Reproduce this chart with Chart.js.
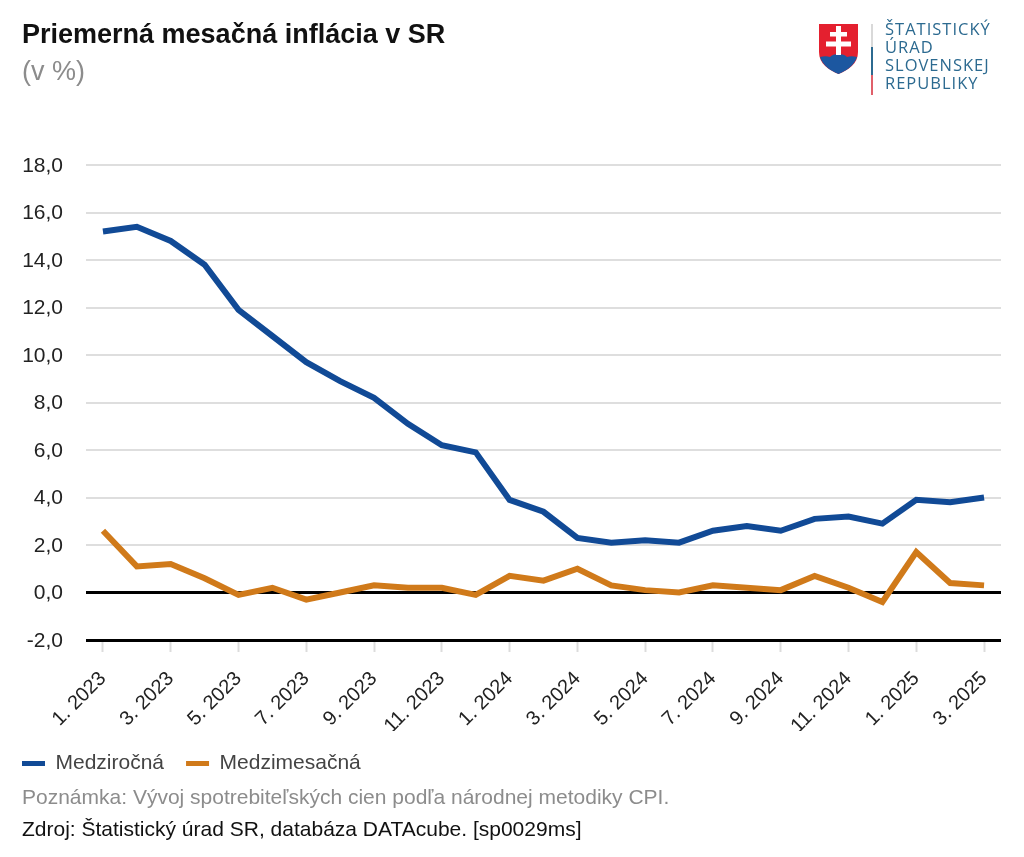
<!DOCTYPE html>
<html lang="sk">
<head>
<meta charset="utf-8">
<title>Priemerná mesačná inflácia v SR</title>
<script src="https://cdn.jsdelivr.net/npm/chart.js@4"></script>
<style>
  html, body { margin: 0; padding: 0; background: #fff; }
  body { position: relative; width: 1024px; height: 857px; overflow: hidden; font-family: "Liberation Sans", Arial, sans-serif; }
  #myChart { position: absolute; left: 0; top: 0; }
  .txt { position: absolute; white-space: nowrap; }
  #title { left: 22px; top: 19px; font-size: 27px; line-height: 30px; font-weight: bold; color: #111; }
  #unit { left: 22px; top: 56px; font-size: 27px; line-height: 30px; color: #8c8c8c; }
  #note { left: 22px; top: 785px; font-size: 21px; line-height: 24px; color: #8c8c8c; }
  #source { left: 22px; top: 817px; font-size: 21px; line-height: 24px; color: #111; }
  #logoText { left: 885px; top: 20px; font-family: "Open Sans", sans-serif; font-size: 16.5px; line-height: 18px; letter-spacing: 1px; color: #2c6a90; }
  #logo { position: absolute; left: 815px; top: 20px; }
</style>
</head>
<body>
<canvas id="myChart" width="1024" height="857"></canvas>

<div class="txt" id="title">Priemerná mesačná inflácia v SR</div>
<div class="txt" id="unit">(v %)</div>

<svg id="logo" width="62" height="78" viewBox="815 20 62 78">
  <path d="M819 24 H858 V52 C858 64 848 70 838.5 74 C829 70 819 64 819 52 Z" fill="#e4202f"/>
  <path d="M820 57 C824 56 827 56 830 57 C833 53 844 53 847 57 C850 56 853 56 857 57 C854 66 846 71 838.5 74 C831 71 823 66 820 57 Z" fill="#1c57a0"/>
  <rect x="836" y="26" width="5" height="29" fill="#fff"/>
  <rect x="830" y="32" width="17" height="4.5" fill="#fff"/>
  <rect x="826" y="41.5" width="25" height="5" fill="#fff"/>
  <rect x="871" y="24" width="2" height="23" fill="#d9d9d9"/>
  <rect x="871" y="47" width="2" height="28" fill="#2c6a90"/>
  <rect x="871" y="75" width="2" height="20" fill="#e0606a"/>
</svg>
<div class="txt" id="logoText">ŠTATISTICKÝ<br>ÚRAD<br>SLOVENSKEJ<br>REPUBLIKY</div>

<div class="txt" id="note">Poznámka: Vývoj spotrebiteľských cien podľa národnej metodiky CPI.</div>
<div class="txt" id="source">Zdroj: Štatistický úrad SR, databáza DATAcube. [sp0029ms]</div>

<script>
const months = [
  '1. 2023', '2. 2023', '3. 2023', '4. 2023', '5. 2023', '6. 2023', '7. 2023', '8. 2023', '9. 2023',
  '10. 2023', '11. 2023', '12. 2023', '1. 2024', '2. 2024', '3. 2024', '4. 2024', '5. 2024', '6. 2024',
  '7. 2024', '8. 2024', '9. 2024', '10. 2024', '11. 2024', '12. 2024', '1. 2025', '2. 2025', '3. 2025',
];
const yearOnYear = [
  15.2, 15.4, 14.8, 13.8, 11.9, 10.8, 9.7, 8.9, 8.2, 7.1, 6.2, 5.9, 3.9, 3.4,
  2.3, 2.1, 2.2, 2.1, 2.6, 2.8, 2.6, 3.1, 3.2, 2.9, 3.9, 3.8, 4.0,
];
const monthOnMonth = [
  2.6, 1.1, 1.2, 0.6, -0.1, 0.2, -0.3, 0.0, 0.3, 0.2, 0.2, -0.1, 0.7, 0.5,
  1.0, 0.3, 0.1, 0.0, 0.3, 0.2, 0.1, 0.7, 0.2, -0.4, 1.7, 0.4, 0.3,
];

const textColor = '#222';
const font = 'Liberation Sans';

const ctx = document.getElementById('myChart');
new Chart(ctx, {
  type: 'line',
  data: {
    labels: months,
    datasets: [
      { label: 'Medziročná', data: yearOnYear, borderColor: '#114a96', backgroundColor: '#114a96', borderWidth: 6, pointRadius: 0, tension: 0 },
      { label: 'Medzimesačná', data: monthOnMonth, borderColor: '#d07a1a', backgroundColor: '#d07a1a', borderWidth: 6, pointRadius: 0, tension: 0 },
    ],
  },
  options: {
    responsive: false,
    animation: false,
    devicePixelRatio: 1,
    layout: { padding: { top: 165, right: 23, bottom: 73, left: 0 } },
    scales: {
      x: {
        offset: true,
        border: { display: false },
        grid: { drawOnChartArea: false, drawTicks: true, tickLength: 12, tickColor: '#dcdcdc', tickWidth: 2 },
        ticks: {
          autoSkip: true,
          maxTicksLimit: 14,
          minRotation: 45,
          maxRotation: 45,
          padding: 15,
          color: textColor,
          font: { family: font, size: 20 },
        },
        afterFit: (axis) => { axis.height = 91; },
      },
      y: {
        min: -2,
        max: 18,
        border: { display: false },
        grid: {
          drawTicks: false,
          color: (c) => (c.tick.value === 0 || c.tick.value === -2 ? '#000' : '#dedede'),
          lineWidth: (c) => (c.tick.value === 0 || c.tick.value === -2 ? 3 : 2),
        },
        ticks: {
          stepSize: 2,
          padding: 23,
          labelOffset: 1,
          color: textColor,
          font: { family: font, size: 21 },
          callback: (v) => v.toFixed(1).replace('.', ','),
        },
        afterFit: (axis) => { axis.width = 86; },
      },
    },
    plugins: {
      tooltip: { enabled: false },
      legend: {
        position: 'bottom',
        align: 'start',
        labels: {
          boxWidth: 23,
          boxHeight: 5,
          padding: 22,
          color: '#444',
          font: { family: font, size: 21 },
          generateLabels: (chart) => Chart.defaults.plugins.legend.labels.generateLabels(chart).map((item) => ({ ...item, lineWidth: 0 })),
        },
      },
    },
  },
});
</script>
</body>
</html>
